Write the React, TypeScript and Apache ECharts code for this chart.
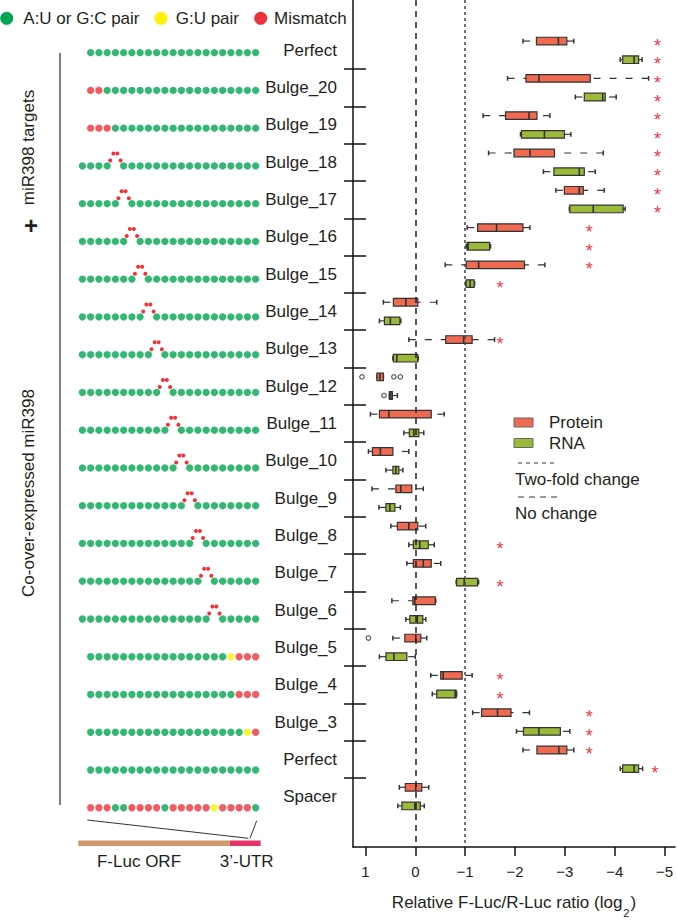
import React, { useEffect, useRef } from "react";
import * as echarts from "echarts";

const groups = [
  "Perfect", "Bulge_20", "Bulge_19", "Bulge_18", "Bulge_17", "Bulge_16", "Bulge_15",
  "Bulge_14", "Bulge_13", "Bulge_12", "Bulge_11", "Bulge_10", "Bulge_9", "Bulge_8",
  "Bulge_7", "Bulge_6", "Bulge_5", "Bulge_4", "Bulge_3", "Perfect", "Spacer",
];

// pairing of the 21-nt site: G = A:U or G:C pair, Y = G:U pair, R = mismatch
const pairing = [
  "GGGGGGGGGGGGGGGGGGGGG",
  "RRGGGGGGGGGGGGGGGGGGG",
  "RRRGGGGGGGGGGGGGGGGGG",
  "GGGGGGGGGGGGGGGGGGGGG",
  "GGGGGGGGGGGGGGGGGGGGG",
  "GGGGGGGGGGGGGGGGGGGGG",
  "GGGGGGGGGGGGGGGGGGGGG",
  "GGGGGGGGGGGGGGGGGGGGG",
  "GGGGGGGGGGGGGGGGGGGGG",
  "GGGGGGGGGGGGGGGGGGGGG",
  "GGGGGGGGGGGGGGGGGGGGG",
  "GGGGGGGGGGGGGGGGGGGGG",
  "GGGGGGGGGGGGGGGGGGGGG",
  "GGGGGGGGGGGGGGGGGGGGG",
  "GGGGGGGGGGGGGGGGGGGGG",
  "GGGGGGGGGGGGGGGGGGGGG",
  "GGGGGGGGGGGGGGGGGYRRR",
  "GGGGGGGGGGGGGGGGGGRRR",
  "GGGGGGGGGGGGGGGGGGGYR",
  "GGGGGGGGGGGGGGGGGGGGG",
  "RRRGGRRRRGRRRRRYRRRRG",
];

// paired nucleotides before the bulge (null = no bulge)
const bulgeAfter: (number | null)[] = [
  null, null, null, 4, 5, 6, 7, 8, 9, 10, 11, 12, 13, 14, 15, 16, null, null, null, null, null,
];

// [whisker end, Q1, median, Q3, whisker end] in log2
const proteinStats = [
  [-2.16, -2.43, -2.87, -3.04, -3.18],
  [-1.85, -2.22, -2.48, -3.51, -4.68],
  [-1.36, -1.81, -2.28, -2.44, -2.7],
  [-1.47, -1.98, -2.3, -2.79, -3.77],
  [-2.82, -2.99, -3.29, -3.37, -3.79],
  [-1.04, -1.25, -1.63, -2.16, -2.3],
  [-0.6, -1.02, -1.27, -2.19, -2.6],
  [0.64, 0.44, 0.19, -0.05, -0.43],
  [0.13, -0.61, -0.97, -1.14, -1.59],
  [0.77, 0.77, 0.71, 0.64, 0.64],
  [0.9, 0.72, 0.53, -0.32, -0.58],
  [0.94, 0.86, 0.7, 0.45, 0.13],
  [0.87, 0.39, 0.29, 0.07, -0.16],
  [0.49, 0.36, 0.13, -0.05, -0.21],
  [0.17, 0.04, -0.16, -0.32, -0.51],
  [0.47, 0.05, 0.01, -0.4, -0.41],
  [0.45, 0.21, -0.01, -0.11, -0.23],
  [-0.31, -0.51, -0.56, -0.94, -1.14],
  [-1.15, -1.33, -1.65, -1.92, -2.29],
  [-2.16, -2.44, -2.88, -3.04, -3.18],
  [0.32, 0.2, -0.01, -0.13, -0.27],
];

const rnaStats = [
  [-4.11, -4.16, -4.39, -4.48, -4.55],
  [-3.21, -3.39, -3.76, -3.81, -4.03],
  [-2.11, -2.13, -2.59, -2.99, -3.12],
  [-2.57, -2.78, -3.29, -3.39, -3.61],
  [-3.09, -3.1, -3.57, -4.17, -4.21],
  [-1.02, -1.04, -1.06, -1.49, -1.51],
  [-1.01, -1.02, -1.1, -1.18, -1.19],
  [0.72, 0.62, 0.5, 0.31, 0.29],
  [0.45, 0.44, 0.37, -0.05, -0.06],
  [0.52, 0.52, 0.49, 0.46, 0.36],
  [0.23, 0.12, 0.03, -0.07, -0.17],
  [0.59, 0.45, 0.39, 0.33, 0.25],
  [0.73, 0.59, 0.51, 0.41, 0.3],
  [0.13, 0.04, -0.09, -0.26, -0.38],
  [-0.82, -0.83, -0.98, -1.25, -1.27],
  [0.19, 0.11, -0.04, -0.15, -0.21],
  [0.72, 0.59, 0.43, 0.17, 0.0],
  [-0.34, -0.43, -0.8, -0.82, -0.83],
  [-2.03, -2.17, -2.48, -2.91, -3.1],
  [-4.11, -4.16, -4.39, -4.48, -4.56],
  [0.35, 0.27, 0.01, -0.1, -0.18],
];

const proteinOutliers: number[][] = [
  [], [], [], [], [], [], [], [], [], [1.07, 0.43, 0.3], [], [], [], [], [], [], [0.94], [], [], [], [],
];
const rnaOutliers: number[][] = [
  [], [], [], [], [], [], [], [], [], [0.63], [], [], [], [], [], [], [], [], [], [], [],
];

// position of significance asterisk (null = not significant)
const proteinStar: (number | null)[] = [
  -4.86, -4.86, -4.86, -4.86, -4.86, -3.49, -3.49, null, -1.7, null, null, null, null, null, null, null, null, -1.7, -3.49, -3.49, null,
];
const rnaStar: (number | null)[] = [
  -4.86, -4.86, -4.86, -4.86, -4.86, -3.49, -1.7, null, null, null, null, null, null, -1.7, -1.7, null, null, -1.7, -3.49, -4.81, null,
];

const xTicks = [1, 0, -1, -2, -3, -4, -5];

const FONT = "Liberation Sans";
const TEXT = "#231F20";
const GREEN = "#00A651";
const YELLOW = "#FFF200";
const RED = "#EE3239";
const PROTEIN = "#EF6A50";
const RNA = "#9BBA3A";
const STAR = "#E8394A";
const STROKE = "#333333";

const groupCenters = groups.map((_, g) => 2 * g + 0.5);
const boundaries = groups.slice(1).map((_, g) => 2 * g + 1.5);

function dotsFor(code: string) {
  const out: number[][] = [];
  pairing.forEach((seq, g) => {
    const b = bulgeAfter[g];
    for (let i = 0; i < seq.length; i++) {
      if (seq[i] !== code) continue;
      const pos = b == null ? i + 1 : i < b ? i : i + 1;
      out.push([pos, groupCenters[g]]);
    }
  });
  return out;
}

const boxRender = (fill: string) => (params: any, api: any) => {
  const row = api.value(0);
  const c = (v: number) => api.coord([v, row]);
  const [x0, y] = c(api.value(1));
  const x1 = c(api.value(2))[0];
  const xm = c(api.value(3))[0];
  const x3 = c(api.value(4))[0];
  const x4 = c(api.value(5))[0];
  const hb = 3.8;
  const hc = 2.4;
  const dash = { stroke: STROKE, lineWidth: 1.2, lineDash: [7, 9] };
  const solid = { stroke: STROKE, lineWidth: 1.5 };
  return {
    type: "group",
    children: [
      { type: "line", shape: { x1: x0, y1: y, x2: x1, y2: y }, style: dash },
      { type: "line", shape: { x1: x4, y1: y, x2: x3, y2: y }, style: dash },
      { type: "line", shape: { x1: x0, y1: y - hc, x2: x0, y2: y + hc }, style: solid },
      { type: "line", shape: { x1: x4, y1: y - hc, x2: x4, y2: y + hc }, style: solid },
      {
        type: "rect",
        shape: { x: Math.min(x1, x3), y: y - hb, width: Math.max(Math.abs(x3 - x1), 1), height: 2 * hb },
        style: { fill, stroke: STROKE, lineWidth: 1.2 },
      },
      { type: "line", shape: { x1: xm, y1: y - hb, x2: xm, y2: y + hb }, style: { stroke: STROKE, lineWidth: 1.6 } },
    ],
  };
};

const starRender = (params: any, api: any) => {
  const [x, y] = api.coord([api.value(1), api.value(0)]);
  return {
    type: "text",
    x,
    y: y + 4.5,
    style: { text: "*", fill: STAR, fontSize: 18, fontFamily: FONT, align: "center", verticalAlign: "middle" },
  };
};

const bulgeRender = (params: any, api: any) => {
  const [x, y0] = api.coord([api.value(0), api.value(1)]);
  const y = y0 + 1.7;
  const pts = [
    [-5.2, -5.5],
    [-2, -12.5],
    [2, -12.5],
    [5.2, -5.5],
  ];
  return {
    type: "group",
    children: pts.map(([dx, dy]) => ({
      type: "circle",
      shape: { cx: x + dx, cy: y + dy, r: 2 },
      style: { fill: RED },
    })),
  };
};

const txt = (text: string, x: number, y: number, extra: any = {}) => ({
  type: "text",
  x,
  y,
  rotation: extra.rotation || 0,
  style: {
    text,
    fill: TEXT,
    fontSize: extra.fontSize || 17,
    fontFamily: FONT,
    fontWeight: extra.fontWeight || "normal",
    align: extra.align || "left",
    verticalAlign: "middle",
  },
});

const Y_MIN = -2.2;
const Y_MAX = 43.2;

function buildOption() {
  const proteinData = proteinStats.map((s, g) => [2 * g, ...s]);
  const rnaData = rnaStats.map((s, g) => [2 * g + 1, ...s]);
  const outlierData: number[][] = [];
  proteinOutliers.forEach((o, g) => o.forEach((v) => outlierData.push([v, 2 * g])));
  rnaOutliers.forEach((o, g) => o.forEach((v) => outlierData.push([v, 2 * g + 1])));
  const starData: number[][] = [];
  proteinStar.forEach((v, g) => v != null && starData.push([2 * g, v]));
  rnaStar.forEach((v, g) => v != null && starData.push([2 * g + 1, v]));
  const bulgeData: number[][] = [];
  bulgeAfter.forEach((b, g) => b != null && bulgeData.push([b, groupCenters[g]]));

  const dotSeries = (name: string, code: string, color: string) => ({
    name,
    type: "scatter",
    xAxisIndex: 1,
    yAxisIndex: 2,
    symbol: "circle",
    symbolSize: 7.3,
    symbolOffset: [0, 1.7],
    itemStyle: { color },
    data: dotsFor(code),
    silent: true,
  });

  return {
    animation: false,
    backgroundColor: "#ffffff",
    grid: [
      { left: 353, top: 0, width: 322, height: 857 },
      { left: 74.15, top: 0, width: 189.75, height: 857 },
    ],
    xAxis: [
      {
        type: "value",
        gridIndex: 0,
        position: "bottom",
        min: -5.21,
        max: 1.25,
        inverse: true,
        splitLine: { show: false },
        axisLine: { show: true, onZero: false, lineStyle: { color: "#111", width: 1.5 } },
        axisTick: { show: true, customValues: xTicks, length: 9, lineStyle: { color: "#111", width: 1.5 } },
        axisLabel: {
          show: true,
          customValues: xTicks,
          margin: 17,
          color: TEXT,
          fontSize: 15,
          fontFamily: FONT,
          formatter: (v: number) => (v < 0 ? "\u2212" + Math.abs(v) : String(v)),
        },
        name: "{a|Relative F-Luc/R-Luc ratio (log}{s|2}{a|)}",
        nameLocation: "middle",
        nameGap: 44,
        nameTextStyle: {
          rich: {
            a: { fontSize: 17, fontFamily: FONT, color: TEXT, lineHeight: 20, verticalAlign: "bottom" },
            s: { fontSize: 11, fontFamily: FONT, color: TEXT, lineHeight: 20, verticalAlign: "bottom", padding: [0, 1, -7, 1] },
          },
        },
      },
      { type: "value", gridIndex: 1, min: -1, max: 22, show: false },
    ],
    yAxis: [
      {
        type: "value",
        gridIndex: 0,
        position: "left",
        min: Y_MIN,
        max: Y_MAX,
        inverse: true,
        splitLine: { show: false },
        axisLine: { show: true, onZero: false, lineStyle: { color: "#111", width: 1.5 } },
        axisTick: { show: true, customValues: boundaries, length: 9, lineStyle: { color: "#111", width: 1.5 } },
        axisLabel: {
          show: true,
          customValues: groupCenters,
          margin: 16,
          padding: [4, 0, 0, 0],
          color: TEXT,
          fontSize: 17,
          fontFamily: FONT,
          formatter: (v: number) => groups[Math.round((v - 0.5) / 2)] || "",
        },
      },
      {
        type: "value",
        gridIndex: 0,
        position: "left",
        offset: 0,
        min: Y_MIN,
        max: Y_MAX,
        inverse: true,
        splitLine: { show: false },
        axisLine: { show: false, onZero: false },
        axisLabel: { show: false },
        axisTick: { show: true, inside: true, customValues: boundaries, length: 13, lineStyle: { color: "#111", width: 1.5 } },
      },
      { type: "value", gridIndex: 1, min: Y_MIN, max: Y_MAX, inverse: true, show: false },
    ],
    series: [
      {
        name: "reference",
        type: "scatter",
        xAxisIndex: 0,
        yAxisIndex: 0,
        symbol: "circle",
        symbolSize: 4.5,
        itemStyle: { color: "#ffffff", borderColor: STROKE, borderWidth: 1.2 },
        data: outlierData,
        z: 5,
        markLine: {
          silent: true,
          symbol: "none",
          label: { show: false },
          data: [
            { xAxis: 0, lineStyle: { color: "#222", width: 1.5, type: [6, 5] } },
            { xAxis: -1, lineStyle: { color: "#444", width: 1.5, type: [3, 3] } },
          ],
        },
      },
      {
        name: "Protein",
        type: "custom",
        xAxisIndex: 0,
        yAxisIndex: 0,
        renderItem: boxRender(PROTEIN),
        encode: { x: [1, 2, 3, 4, 5], y: 0 },
        data: proteinData,
        clip: false,
        z: 3,
      },
      {
        name: "RNA",
        type: "custom",
        xAxisIndex: 0,
        yAxisIndex: 0,
        renderItem: boxRender(RNA),
        encode: { x: [1, 2, 3, 4, 5], y: 0 },
        data: rnaData,
        clip: false,
        z: 3,
      },
      {
        name: "Significance",
        type: "custom",
        xAxisIndex: 0,
        yAxisIndex: 0,
        renderItem: starRender,
        encode: { x: 1, y: 0 },
        data: starData,
        clip: false,
      },
      dotSeries("A:U or G:C pair", "G", GREEN),
      dotSeries("G:U pair", "Y", YELLOW),
      dotSeries("Mismatch", "R", RED),
      {
        name: "Bulge",
        type: "custom",
        xAxisIndex: 1,
        yAxisIndex: 2,
        renderItem: bulgeRender,
        encode: { x: 0, y: 1 },
        data: bulgeData,
        clip: false,
      },
    ],
    graphic: [
      // top legend
      { type: "circle", shape: { cx: 6.7, cy: 18.3, r: 6.5 }, style: { fill: GREEN } },
      txt("A:U or G:C pair", 23.3, 18.5),
      { type: "circle", shape: { cx: 161, cy: 18.3, r: 6.5 }, style: { fill: YELLOW } },
      txt("G:U pair", 175.7, 18.5),
      { type: "circle", shape: { cx: 260.7, cy: 18.3, r: 6.5 }, style: { fill: RED } },
      txt("Mismatch", 274, 18.5),
      // left bracket and labels
      { type: "line", shape: { x1: 60, y1: 53, x2: 60, y2: 805 }, style: { stroke: "#555", lineWidth: 1.5 } },
      txt("miR398 targets", 28, 147.5, { rotation: Math.PI / 2, align: "center" }),
      txt("+", 31, 225, { fontSize: 24, fontWeight: "bold", align: "center" }),
      txt("Co-over-expressed miR398", 28, 493, { rotation: Math.PI / 2, align: "center" }),
      // construct
      { type: "line", shape: { x1: 87.3, y1: 820, x2: 248.3, y2: 838.3 }, style: { stroke: "#333", lineWidth: 1 } },
      { type: "line", shape: { x1: 256.7, y1: 820.7, x2: 250, y2: 838.3 }, style: { stroke: "#333", lineWidth: 1 } },
      { type: "rect", shape: { x: 78.3, y: 840.5, width: 151.7, height: 5.5 }, style: { fill: "#CF9A6B" } },
      { type: "rect", shape: { x: 230, y: 840.5, width: 30.7, height: 5.5 }, style: { fill: "#E6336A" } },
      txt("F-Luc ORF", 139, 861.5, { align: "center" }),
      txt("3\u2019-UTR", 246.7, 861.5, { align: "center" }),
      // right legend
      { type: "rect", shape: { x: 514, y: 418, width: 19, height: 9 }, style: { fill: PROTEIN, stroke: "#666", lineWidth: 1 } },
      txt("Protein", 549, 422.5),
      { type: "rect", shape: { x: 514, y: 438.5, width: 19, height: 9 }, style: { fill: RNA, stroke: "#666", lineWidth: 1 } },
      txt("RNA", 549, 443),
      { type: "line", shape: { x1: 518, y1: 463, x2: 557, y2: 463 }, style: { stroke: "#333", lineWidth: 1, lineDash: [4, 4] } },
      txt("Two-fold change", 515, 479.5),
      { type: "line", shape: { x1: 518, y1: 497, x2: 557, y2: 497 }, style: { stroke: "#333", lineWidth: 1, lineDash: [6, 5] } },
      txt("No change", 515, 513),
    ],
  };
}

export default function App() {
  const ref = useRef<HTMLDivElement>(null);
  useEffect(() => {
    if (!ref.current) return;
    const chart = echarts.init(ref.current, null, { renderer: "svg" });
    chart.setOption(buildOption() as any);
    return () => chart.dispose();
  }, []);
  return (
    <div
      ref={ref}
      style={{ position: "absolute", left: 0, top: 0, width: 677, height: 923, background: "#fff" }}
    />
  );
}
